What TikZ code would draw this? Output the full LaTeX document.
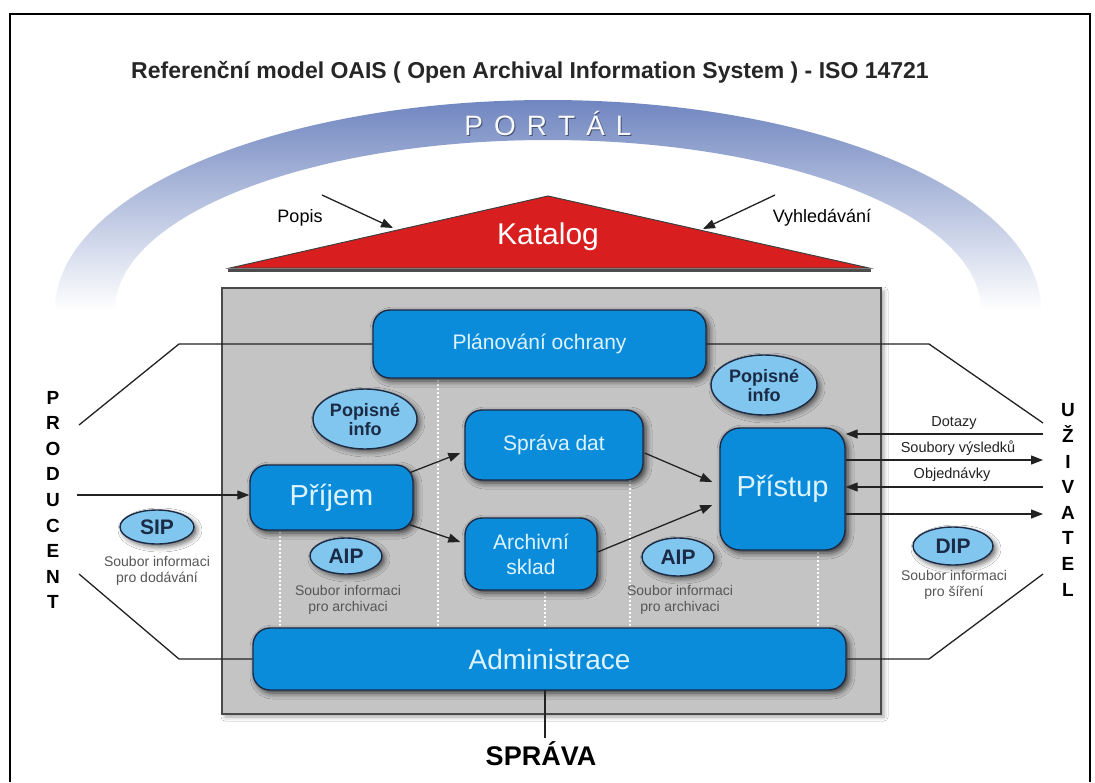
\documentclass[tikz,border=0pt]{standalone}
\usepackage{fontspec}
\setmainfont{Liberation Sans}
\usetikzlibrary{shapes.geometric,arrows.meta,shadows.blur}
\definecolor{boxblue}{HTML}{0A8CDA}
\definecolor{boxedge}{HTML}{1B2B45}
\definecolor{boxtext}{HTML}{DDF3FF}
\definecolor{ellblue}{HTML}{80C6EE}
\definecolor{elltext}{HTML}{1B2A45}
\definecolor{grayfill}{HTML}{C4C4C4}
\definecolor{grayedge}{HTML}{4A4A4A}
\definecolor{katred}{HTML}{D81E1E}
\definecolor{portal}{HTML}{7086C0}
\definecolor{smalltext}{HTML}{555555}
\definecolor{linecol}{HTML}{222222}
\newcommand{\fs}[2]{\fontsize{#1}{#2}\selectfont}
\tikzset{
  bluebox/.style={rectangle, rounded corners=17pt, fill=boxblue, draw=boxedge, line width=1.4pt,
    text=boxtext, align=center, inner sep=0pt,
    blur shadow={shadow xshift=3pt, shadow yshift=-3pt, shadow blur radius=6pt, shadow opacity=75}},
  infoell/.style={ellipse, fill=ellblue, draw=boxedge, line width=1.4pt, text=elltext,
    font=\bfseries\fs{18}{19}, align=center, inner sep=0pt,
    blur shadow={shadow xshift=3pt, shadow yshift=-3pt, shadow blur radius=5pt, shadow opacity=60}},
  smalllbl/.style={text=smalltext, font=\fs{14}{16}, align=center, inner sep=0pt},
  conn/.style={draw=linecol, line width=1.3pt},
  arr/.style={conn, -{Triangle[length=12pt,width=9pt]}},
  sep/.style={draw=white, line width=1.3pt, dash pattern=on 2pt off 2pt},
  sidelbl/.style={font=\bfseries\fs{19}{25.6}, align=center, inner sep=0pt},
  arrlbl/.style={font=\fs{14.5}{16}, text=linecol, inner sep=0pt}
}
\begin{document}
\begin{tikzpicture}[x=1pt,y=-1pt]
\useasboundingbox (0,0) rectangle (1095,782);
\fill[white] (0,0) rectangle (1095,782);
% frame
\draw[line width=2.2pt] (10,782) -- (10,14) -- (1090,14) -- (1090,782);
% title
\node[font=\bfseries\fs{23}{25}, text=black!85] (title) at (530,72) {Referenční model OAIS ( Open Archival Information System ) - ISO 14721};
% portal band
\shade[top color=portal, bottom color=white]
  (55,310) arc[start angle=180, end angle=360, x radius=493, y radius=210]
  -- (981,310) arc[start angle=360, end angle=180, x radius=433, y radius=170] -- cycle;
\node[font=\fs{28}{29}, text=black!40!portal] (portalsh) at (549,124.5)
  {P\hspace{11pt}O\hspace{11pt}R\hspace{11pt}T\hspace{11pt}Á\hspace{11pt}L};
\node[font=\fs{28}{29}, text=white!95!portal] (portaltxt) at (548,123)
  {P\hspace{11pt}O\hspace{11pt}R\hspace{11pt}T\hspace{11pt}Á\hspace{11pt}L};
% katalog triangle
\draw[line width=3pt, draw=black!70] (228,270) -- (871,270);
\filldraw[fill=katred, draw=black!75, line width=1pt] (548,196) -- (869,268) -- (230,268) -- cycle;
\node[font=\fs{30}{32}, text=white] (katalog) at (548,237) {Katalog};
\node[font=\fs{18}{20}] (popis) at (300,218) {Popis};
\node[font=\fs{18}{20}] (vyhl) at (822,218) {Vyhledávání};
\coordinate (popA) at (322,195);
\coordinate (popB) at (393,228);
\coordinate (vyhA) at (775,195);
\coordinate (vyhB) at (703,229);
\draw[arr] (popA) -- (popB);
\draw[arr] (vyhA) -- (vyhB);
% gray box
\node[rectangle, fill=grayfill, draw=grayedge, line width=1.6pt, minimum width=659pt, minimum height=426pt,
  blur shadow={shadow xshift=3pt, shadow yshift=-3pt, shadow blur radius=4pt, shadow opacity=35}]
  (oais) at (551.5,501) {};
% white dotted separators
\draw[sep] (280,532) -- (280,627);
\draw[sep] (438,380) -- (438,627);
\draw[sep] (545,592) -- (545,627);
\draw[sep] (630,480) -- (630,627);
\draw[sep] (818,552) -- (818,627);
% boxes
\node[bluebox, minimum width=333pt, minimum height=68pt, font=\fs{21}{23}] (plan) at (539.5,344) {Plánování ochrany};
\node[bluebox, minimum width=178pt, minimum height=70pt, font=\fs{21}{23}] (sprava) at (554,445) {Správa dat};
\node[bluebox, minimum width=163pt, minimum height=65pt, font=\fs{29}{31}] (prijem) at (331.5,497.5) {Příjem};
\node[bluebox, minimum width=132pt, minimum height=72pt, font=\fs{21}{25}] (archiv) at (531,554) {Archivní\\sklad};
\node[bluebox, rounded corners=20pt, minimum width=125pt, minimum height=122pt, font=\fs{29}{31}] (pristup) at (782.5,489) {Přístup};
\node[bluebox, minimum width=593pt, minimum height=62pt, font=\fs{28}{30}] (admin) at (549.5,659) {Administrace};
% info ellipses
\node[infoell, minimum width=104pt, minimum height=60pt] (popL) at (365,419) {Popisné\\info};
\node[infoell, minimum width=106pt, minimum height=60pt] (popR) at (764,385) {Popisné\\info};
\node[infoell, minimum width=74pt, minimum height=34pt, font=\bfseries\fs{21}{22}] (sip) at (157,527) {SIP};
\node[infoell, minimum width=72pt, minimum height=36pt, font=\bfseries\fs{21}{22}] (aipL) at (346,556) {AIP};
\node[infoell, minimum width=72pt, minimum height=38pt, font=\bfseries\fs{21}{22}] (aipR) at (678,557) {AIP};
\node[infoell, minimum width=80pt, minimum height=38pt, font=\bfseries\fs{21}{22}] (dip) at (953,546) {DIP};
\node[smalllbl] (sipt) at (157,571) {Soubor informaci\\pro dodávání};
\node[smalllbl] (aipLt) at (348,600) {Soubor informaci\\pro archivaci};
\node[smalllbl] (aipRt) at (680,600) {Soubor informaci\\pro archivaci};
\node[smalllbl] (dipt) at (954,585) {Soubor informaci\\pro šíření};
% side labels
\node[sidelbl] (producent) at (53,500) {P\\R\\O\\D\\U\\C\\E\\N\\T};
\node[sidelbl] (uzivatel) at (1068,500) {U\\Ž\\I\\V\\A\\T\\E\\L};
\node[font=\bfseries\fs{27}{29}] (spravaout) at (541,754) {SPRÁVA};
% producent connectors
\coordinate (pA) at (79,425);
\coordinate (pAk) at (179,344);
\coordinate (pB) at (77,495);
\coordinate (pC) at (79,574);
\coordinate (pCk) at (179,659);
\draw[conn] (pA) -- (pAk) -- (plan.west);
\draw[arr] (pB) -- (pB -| prijem.west);
\draw[conn] (pC) -- (pCk) -- (admin.west);
% uzivatel connectors
\coordinate (uA) at (1043,423);
\coordinate (uAk) at (929,344);
\coordinate (uC) at (1043,574);
\coordinate (uCk) at (929,659);
\draw[conn] (plan.east) -- (uAk) -- (uA);
\draw[conn] (admin.east) -- (uCk) -- (uC);
\coordinate (u1) at (1043,434);
\coordinate (u2) at (1043,460);
\coordinate (u3) at (1043,487);
\coordinate (u4) at (1043,514);
\draw[arr] (u1) -- (u1 -| pristup.east);
\draw[arr] (u2 -| pristup.east) -- (u2);
\draw[arr] (u3) -- (u3 -| pristup.east);
\draw[arr] (u4 -| pristup.east) -- (u4);
\node[arrlbl] (dotazy) at (954,423) {Dotazy};
\node[arrlbl] (soubory) at (958,448) {Soubory výsledků};
\node[arrlbl] (objed) at (952,475) {Objednávky};
% internal flows
\draw[arr] ([xshift=-3pt,yshift=-8pt]prijem.north east) -- ([xshift=-4pt,yshift=-8pt]sprava.west);
\draw[arr] ([xshift=-4pt,yshift=6pt]prijem.south east) -- ([xshift=-4pt,yshift=12pt]archiv.west);
\draw[arr] ([xshift=1pt,yshift=-8pt]sprava.east) -- ([xshift=-7pt,yshift=7pt]pristup.west);
\draw[arr] ([xshift=0pt,yshift=2pt]archiv.east) -- ([xshift=-7pt,yshift=-16pt]pristup.west);
% sprava line
\coordinate (spA) at (545,690);
\draw[conn] (spA) -- (spA |- spravaout.north);
\end{tikzpicture}
\end{document}
